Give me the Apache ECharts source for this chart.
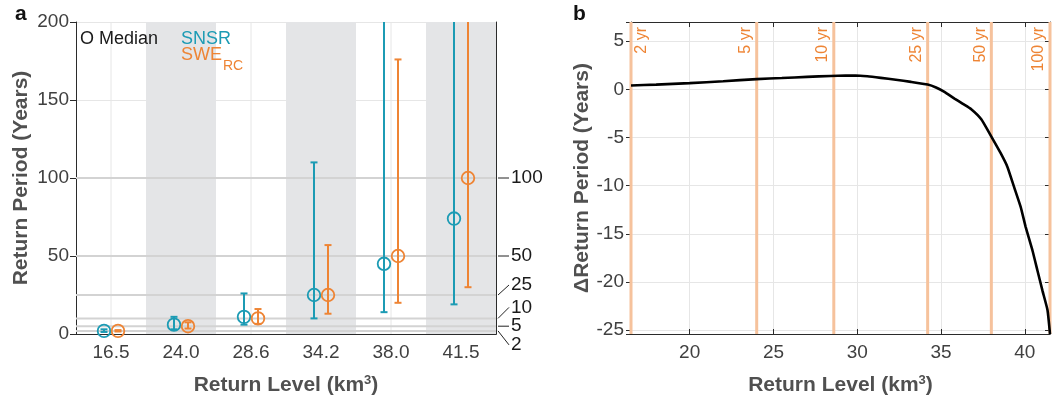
<!DOCTYPE html>
<html><head><meta charset="utf-8">
<script src="https://cdn.jsdelivr.net/npm/echarts@6/dist/echarts.min.js"></script>
<style>html,body{margin:0;padding:0;background:#fff}#c{width:1061px;height:401px}</style>
</head><body><div id="c"></div>
<script>
// ---------- data ----------
const categories = ['16.5', '24.0', '28.6', '34.2', '38.0', '41.5'];
const shadedCategories = ['24.0', '34.2', '41.5'];
const snsrMedian = [2, 6, 11, 25, 45, 74];
const snsrLow = [1.3, 3, 6, 10, 14, 19];
const snsrHigh = [3, 11, 26, 110, 260, 300];
const sweMedian = [2, 5, 10, 25, 50, 100];
const sweLow = [1.6, 3.5, 6.5, 13, 20, 30];
const sweHigh = [2.5, 7.5, 16, 57, 176, 320];
const returnPeriods = [2, 5, 10, 25, 50, 100];
const returnPeriodLabels = ['2', '5', '10', '25', '50', '100'];
const periodLevels = [16.5, 24.0, 28.6, 34.2, 38.0, 41.5];
const periodLevelLabels = ['2 yr', '5 yr', '10 yr', '25 yr', '50 yr', '100 yr'];
const curveX = [16.5, 18, 20, 22, 24, 25.5, 27, 28.4, 29.3, 29.9, 30.6, 31.4, 32.3, 33.2, 34.2, 34.7, 35.2, 35.8, 36.3, 36.8, 37.4, 38.0, 38.55, 38.96, 39.35, 39.75, 40.05, 40.45, 40.75, 41.05, 41.35, 41.5];
const curveY = [0.4, 0.5, 0.65, 0.85, 1.07, 1.18, 1.3, 1.4, 1.43, 1.44, 1.36, 1.2, 1.0, 0.78, 0.5, 0.2, -0.25, -0.95, -1.5, -2.05, -3.1, -4.9, -6.6, -8.05, -10.1, -12.2, -14.3, -16.7, -18.8, -20.9, -22.9, -25.4];

// ---------- styles ----------
const FONT = "'Liberation Sans', Arial, Helvetica, sans-serif";
const TEAL = '#1c9bb4';
const ORANGE = '#ee8434';
const AXIS = '#2b2b2b';
const TICKTXT = '#404040';
const TITLE = '#505050';
const GRIDC = '#e6e6e6';
const LEFT_MAX = 200;
const rightLabelOffsets = [14, 0, -11, -10, 0, 0];
const pointOffset = 7;

const chart = echarts.init(document.getElementById('c'), null, {renderer: 'canvas'});

function errRender(dx, color) {
  return function (params, api) {
    const i = api.value(0);
    const c = api.coord([i, api.value(1)]);
    const lo = api.coord([i, api.value(2)]);
    const hiVal = Math.min(api.value(3), LEFT_MAX);
    const hi = api.coord([i, hiVal]);
    const x = c[0] + dx;
    const st = {stroke: color, lineWidth: 2};
    const ch = [
      {type: 'line', shape: {x1: x, y1: lo[1], x2: x, y2: hi[1]}, style: st},
      {type: 'line', shape: {x1: x - 3.5, y1: lo[1], x2: x + 3.5, y2: lo[1]}, style: st}
    ];
    if (api.value(3) <= LEFT_MAX) ch.push({type: 'line', shape: {x1: x - 3.5, y1: hi[1], x2: x + 3.5, y2: hi[1]}, style: st});
    ch.push({type: 'circle', shape: {cx: x, cy: c[1], r: 6.3}, style: {fill: 'none', stroke: color, lineWidth: 1.8}});
    return {type: 'group', children: ch};
  };
}

const titleRich = {
  t: {fontFamily: FONT, fontSize: 21, fontWeight: 'bold', color: TITLE},
  s: {fontFamily: FONT, fontSize: 13, fontWeight: 'bold', color: TITLE, verticalAlign: 'top', padding: [0, 0, 10, 0]}
};

const mult5 = v => (Math.abs(v / 5 - Math.round(v / 5)) < 1e-6 ? String(v) : '');

const option = {
  animation: false,
  backgroundColor: '#fff',
  grid: [
    {left: 76, top: 22, width: 420, height: 312},
    {left: 631, top: 22, width: 419, height: 312}
  ],
  xAxis: [
    {type: 'category', gridIndex: 0, data: categories, boundaryGap: true,
      axisLine: {lineStyle: {color: AXIS}}, axisTick: {inside: true, alignWithLabel: true, length: 5, lineStyle: {color: AXIS}},
      axisLabel: {color: TICKTXT, fontSize: 19, fontFamily: FONT, margin: 9}, splitLine: {show: false},
      name: '{t|Return Level (km}{s|3}{t|)}', nameLocation: 'middle', nameGap: 40, nameTextStyle: {rich: titleRich}},
    {type: 'category', gridIndex: 0, position: 'top', data: categories, boundaryGap: true,
      axisLine: {lineStyle: {color: AXIS}}, axisTick: {inside: true, alignWithLabel: true, length: 5, lineStyle: {color: AXIS}},
      axisLabel: {show: false}, splitLine: {show: false}},
    {type: 'value', gridIndex: 1, min: 16.5, max: 41.5,
      axisLine: {onZero: false, lineStyle: {color: AXIS}}, axisTick: {inside: true, length: 5, lineStyle: {color: AXIS}},
      axisLabel: {color: TICKTXT, fontSize: 19, fontFamily: FONT, margin: 9, formatter: mult5, showMinLabel: true, showMaxLabel: true},
      splitLine: {lineStyle: {color: GRIDC}},
      name: '{t|Return Level (km}{s|3}{t|)}', nameLocation: 'middle', nameGap: 40, nameTextStyle: {rich: titleRich}},
    {type: 'value', gridIndex: 1, position: 'top', min: 16.5, max: 41.5,
      axisLine: {onZero: false, lineStyle: {color: AXIS}}, axisTick: {inside: true, length: 5, lineStyle: {color: AXIS}},
      axisLabel: {show: false}, splitLine: {show: false}}
  ],
  yAxis: [
    {type: 'value', gridIndex: 0, min: 0, max: 200, interval: 50,
      axisLine: {show: true, onZero: false, lineStyle: {color: AXIS}}, axisTick: {show: true, inside: false, length: 6, lineStyle: {color: AXIS}},
      axisLabel: {color: TICKTXT, fontSize: 19, fontFamily: FONT, margin: 7},
      splitLine: {lineStyle: {color: GRIDC}},
      name: 'Return Period (Years)', nameLocation: 'middle', nameGap: 44,
      nameTextStyle: {fontFamily: FONT, fontSize: 21, fontWeight: 'bold', color: TITLE}},
    {type: 'value', gridIndex: 0, position: 'right', min: 0, max: 200, interval: 50,
      axisLine: {show: true, onZero: false, lineStyle: {color: AXIS}}, axisTick: {show: true, inside: true, length: 5, lineStyle: {color: AXIS}},
      axisLabel: {show: false}, splitLine: {show: false}},
    {type: 'value', gridIndex: 1, min: -25.4, max: 7,
      axisLine: {show: true, onZero: false, lineStyle: {color: AXIS}}, axisTick: {show: true, inside: false, length: 5, lineStyle: {color: AXIS}},
      axisLabel: {color: TICKTXT, fontSize: 19, fontFamily: FONT, margin: 7, formatter: mult5},
      splitLine: {lineStyle: {color: GRIDC}},
      name: 'ΔReturn Period (Years)', nameLocation: 'middle', nameGap: 38,
      nameTextStyle: {fontFamily: FONT, fontSize: 21, fontWeight: 'bold', color: TITLE}},
    {type: 'value', gridIndex: 1, position: 'right', min: -25.4, max: 7,
      axisLine: {show: true, onZero: false, lineStyle: {color: AXIS}}, axisTick: {show: true, inside: true, length: 5, lineStyle: {color: AXIS}},
      axisLabel: {show: false}, splitLine: {show: false}}
  ],
  series: [
    {type: 'custom', xAxisIndex: 0, yAxisIndex: 0, z: 1, silent: true,
      data: categories.map(c => [c]), encode: {x: 0},
      renderItem: function (params, api) {
        const b = api.coord([api.value(0), 0]);
        const t = api.coord([api.value(0), LEFT_MAX]);
        return {type: 'line', shape: {x1: b[0], y1: b[1], x2: t[0], y2: t[1]}, style: {stroke: GRIDC, lineWidth: 1}};
      }},
    {type: 'custom', xAxisIndex: 0, yAxisIndex: 0, z: 2, silent: true,
      data: shadedCategories.map(c => [c]), encode: {x: 0},
      renderItem: function (params, api) {
        const b = api.coord([api.value(0), 0]);
        const t = api.coord([api.value(0), LEFT_MAX]);
        const w = api.size([1, 0])[0];
        return {type: 'rect', shape: {x: b[0] - w / 2, y: t[1], width: w, height: b[1] - t[1]}, style: {fill: '#e4e5e7'}};
      }},
    {type: 'custom', xAxisIndex: 0, yAxisIndex: 0, z: 3, silent: true,
      data: returnPeriods.map(v => [0, v]), encode: {y: 1},
      renderItem: function (params, api) {
        const cs = params.coordSys;
        const y = api.coord([0, api.value(1)])[1];
        return {type: 'line', shape: {x1: cs.x, y1: y, x2: cs.x + cs.width, y2: y}, style: {stroke: '#d3d3d3', lineWidth: 2}};
      }},
    {type: 'custom', name: 'SNSR', xAxisIndex: 0, yAxisIndex: 0, z: 10,
      data: categories.map((c, i) => [c, snsrMedian[i], snsrLow[i], snsrHigh[i]]), encode: {x: 0, y: 1},
      renderItem: errRender(-pointOffset, TEAL)},
    {type: 'custom', name: 'SWE', xAxisIndex: 0, yAxisIndex: 0, z: 10,
      data: categories.map((c, i) => [c, sweMedian[i], sweLow[i], sweHigh[i]]), encode: {x: 0, y: 1},
      renderItem: errRender(pointOffset, ORANGE)},
    {type: 'custom', xAxisIndex: 2, yAxisIndex: 2, z: 3, silent: true,
      data: periodLevels.map((v, i) => [v, periodLevelLabels[i]]), encode: {x: 0},
      renderItem: function (params, api) {
        const cs = params.coordSys;
        const x = api.coord([api.value(0), 0])[0];
        const right = params.dataIndex === 0;
        return {type: 'group', children: [
          {type: 'line', shape: {x1: x, y1: cs.y, x2: x, y2: cs.y + cs.height}, style: {stroke: '#f6c29c', lineWidth: 3}},
          {type: 'text', x: right ? x + 3 : x - 3, y: cs.y + 5, rotation: Math.PI / 2,
            style: {text: periodLevelLabels[params.dataIndex], fill: ORANGE, font: '16px ' + FONT, align: 'right', verticalAlign: right ? 'top' : 'bottom'}}
        ]};
      }},
    {type: 'line', xAxisIndex: 2, yAxisIndex: 2, z: 10, showSymbol: false, symbol: 'none', smooth: 0.15,
      data: curveX.map((x, i) => [x, curveY[i]]), lineStyle: {color: '#000', width: 2.6}}
  ],
  graphic: [
    {type: 'text', left: 15, top: 4, z: 100, style: {text: 'a', font: 'bold 21px ' + FONT, fill: '#111'}},
    {type: 'text', left: 573, top: 4, z: 100, style: {text: 'b', font: 'bold 21px ' + FONT, fill: '#111'}},
    {type: 'text', x: 80, y: 39, z: 100, style: {text: 'O Median', font: '18px ' + FONT, fill: '#1a1a1a', verticalAlign: 'middle'}},
    {type: 'text', x: 181, y: 39, z: 100, style: {text: 'SNSR', font: '18px ' + FONT, fill: TEAL, verticalAlign: 'middle'}},
    {type: 'text', x: 181, y: 55, z: 100, style: {text: 'SWE', font: '18px ' + FONT, fill: ORANGE, verticalAlign: 'middle'}},
    {type: 'text', x: 223, y: 66, z: 100, style: {text: 'RC', font: '14px ' + FONT, fill: ORANGE, verticalAlign: 'middle'}}
  ]
};
chart.setOption(option);

const xr = chart.convertToPixel({xAxisIndex: 0}, categories[categories.length - 1]) + 35;
const extra = [];
returnPeriods.forEach((v, i) => {
  const y = chart.convertToPixel({yAxisIndex: 0}, v);
  const ly = y + rightLabelOffsets[i];
  extra.push({type: 'line', shape: {x1: xr + 2, y1: y, x2: xr + 13, y2: ly}, style: {stroke: '#222', lineWidth: 1}, z: 100});
  extra.push({type: 'text', x: xr + 15, y: ly, style: {text: returnPeriodLabels[i], font: '19px ' + FONT, fill: '#1a1a1a', verticalAlign: 'middle'}, z: 100});
});
chart.setOption({graphic: option.graphic.concat(extra)});
</script></body></html>
